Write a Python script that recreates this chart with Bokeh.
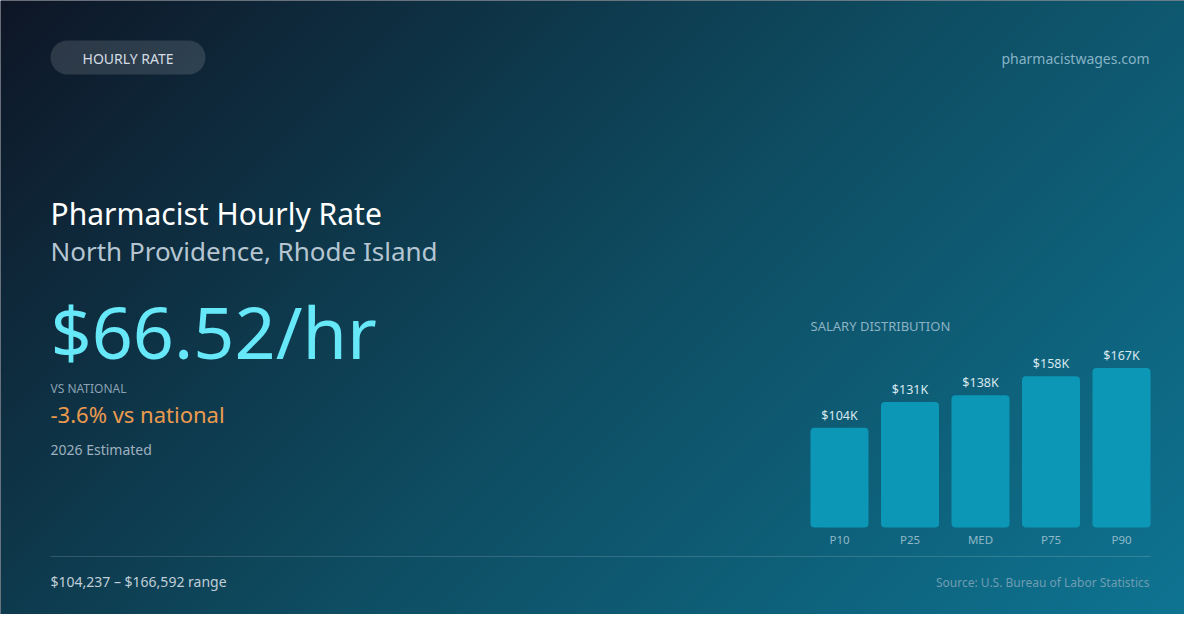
import numpy as np
from bokeh.plotting import figure
from bokeh.models import Range1d
from bokeh.core.properties import value
from bokeh.embed import file_html
from bokeh.resources import INLINE

# ---------------- data ----------------
categories = ["P10", "P25", "MED", "P75", "P90"]
salaries = [104237, 131000, 138000, 158000, 166592]
bar_labels = [f"${round(v / 1000)}K" for v in salaries]
hourly_rate = 66.52
vs_national_pct = -3.6
year_label = "2026 Estimated"
place = "North Providence, Rhode Island"
title = "Pharmacist Hourly Rate"

# ---------------- layout constants (pixels) ----------------
W, H = 1184, 614
OFF = 0
FONT = "Noto Sans"
MID = 0.357  # cap-centre offset (em) used to place text by its baseline

p = figure(width=W, height=H, output_backend="svg", toolbar_location=None,
           x_range=Range1d(OFF, OFF + W), y_range=Range1d(OFF + H, OFF),
           min_border=0, outline_line_color=None)
p.xaxis.visible = False
p.yaxis.visible = False
p.grid.visible = False
p.background_fill_color = "#0f172a"
p.border_fill_color = "#0f172a"

# background gradient (135deg) on its own normal range
p.extra_y_ranges = {"bg": Range1d(0, H)}
res = 2
gw, gh = W // res, H // res
xs = (np.arange(gw) * res + OFF + res / 2)
ys_screen = (np.arange(gh)[::-1] * res + OFF + res / 2)  # row 0 = bottom
X, Y = np.meshgrid(xs, ys_screen)
t = 0.5 + ((X - 600) + (Y - 315)) / 1830.0
t = np.clip(t, 0, 1)
stops = [(0.0, (14, 22, 38)), (0.5, (15, 76, 97)), (1.0, (14, 118, 148))]
rgb = np.zeros(X.shape + (3,))
for (t0, c0), (t1, c1) in zip(stops[:-1], stops[1:]):
    m = (t >= t0) & (t <= t1)
    f = (t[m] - t0) / (t1 - t0)
    for k in range(3):
        rgb[..., k][m] = c0[k] + (c1[k] - c0[k]) * f
img = np.empty(X.shape, dtype=np.uint32)
view = img.view(dtype=np.uint8).reshape(X.shape + (4,))
for k in range(3):
    view[..., k] = rgb[..., k].astype(np.uint8)
view[..., 3] = 255
p.image_rgba(image=[img], x=OFF, y=0, dw=W, dh=H, y_range_name="bg")

def txt(x, base, s, size, color, align="left"):
    p.text(x=[x], y=[base - MID * size], text=[s], text_font=value(FONT),
           text_font_size=f"{size}px", text_color=color, text_align=align,
           text_baseline="middle")

# pill
p.quad(left=[50], right=[205], top=[40], bottom=[74], fill_color="white",
       fill_alpha=0.13, line_color=None, border_radius=17)
txt(127.5, 62.5, "HOURLY RATE", 14, "#d3dce4", align="center")
txt(1149, 63, "pharmacistwages.com", 14, "#86b3c6", align="right")

txt(50, 224, title, 30, "#ffffff")
txt(50, 260, place, 26, "#b5c6d2")
txt(50, 356, f"${hourly_rate:.2f}/hr", 72, "#67e8f9")
txt(50, 392, "VS NATIONAL", 12, "#8aa1b2")
txt(50, 421, f"{vs_national_pct:.1f}% vs national", 22, "#eb9a4e")
txt(50, 454, year_label, 14, "#9eb1bf")

# salary distribution
txt(810, 330, "SALARY DISTRIBUTION", 13, "#8cb2c4")

BX0, BDX, BW = 839.0, 70.5, 58.0
p.extra_x_ranges = {"bars": Range1d((OFF - BX0) / BDX, (OFF + W - BX0) / BDX)}
BASE, SCALE = 527.0, 0.000958
p.extra_y_ranges["sal"] = Range1d(-(OFF + H - BASE) / SCALE, (BASE - OFF) / SCALE)
idx = list(range(len(categories)))
p.vbar(x=idx, top=salaries, bottom=0, width=BW / BDX, fill_color="#0b97b5",
       line_color=None, border_radius=4, x_range_name="bars", y_range_name="sal")
LBL, CAT = 12.5, 11.5
p.text(x=idx, y=salaries, text=bar_labels, text_font=value(FONT),
       text_font_size=f"{LBL}px", text_color="#d8e8ef", text_align="center",
       text_baseline="middle", y_offset=-8 - MID * LBL,
       x_range_name="bars", y_range_name="sal")
p.text(x=idx, y=[0] * len(idx), text=categories, text_font=value(FONT),
       text_font_size=f"{CAT}px", text_color="#8fb8c8", text_align="center",
       text_baseline="middle", y_offset=16 - MID * CAT,
       x_range_name="bars", y_range_name="sal")

# footer
p.segment(x0=[50], x1=[1150], y0=[556], y1=[556], line_color="white",
          line_alpha=0.15, line_width=1)
txt(50, 586, f"${salaries[0]:,} – ${salaries[-1]:,} range", 14, "#c0ced8")
txt(1149, 586, "Source: U.S. Bureau of Labor Statistics", 12, "#6f9db1", align="right")

open("out.html", "w").write(file_html(p, INLINE))
